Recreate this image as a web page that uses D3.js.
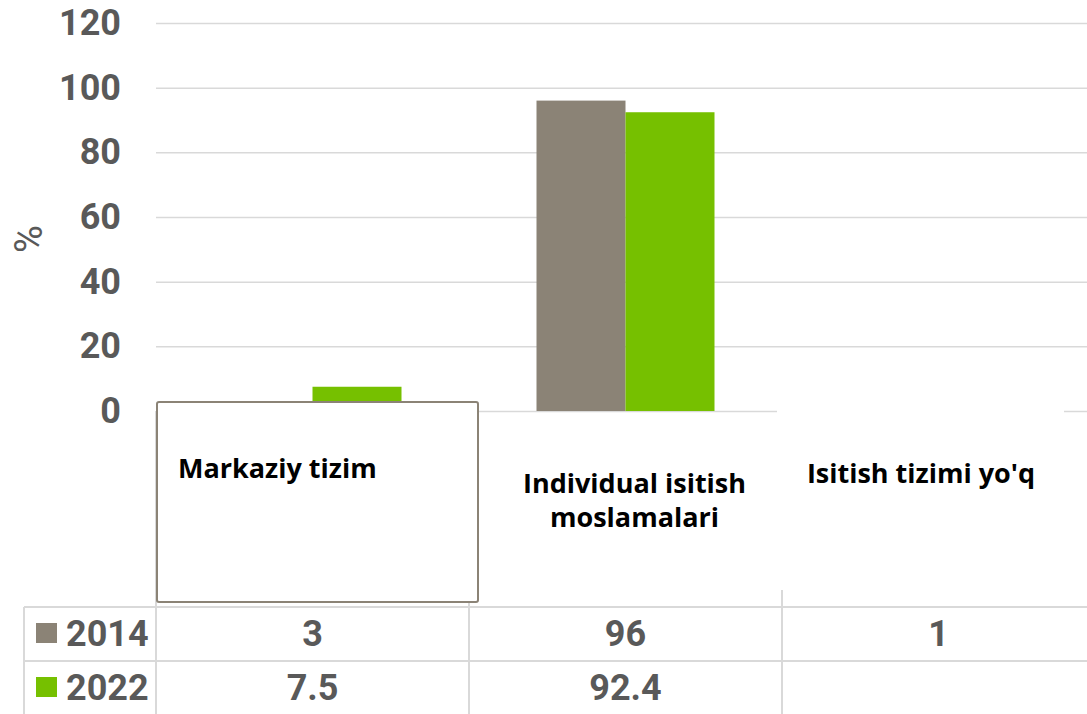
<!DOCTYPE html>
<html>
<head>
<meta charset="utf-8">
<script src="https://cdn.jsdelivr.net/npm/d3@7"></script>
<style>
  html, body { margin: 0; padding: 0; background: #fff; }
  svg { display: block; }
</style>
</head>
<body>
<svg id="chart" width="1087" height="714"></svg>
<script>
// ---- data ----
const categories = ["Markaziy tizim", "Individual isitish moslamalari", "Isitish tizimi yo'q"];
const seriesNames = ["2014", "2022"];
const values2014 = [3, 96, 1];
const values2022 = [7.5, 92.4, null];
const tickValues = [0, 20, 40, 60, 80, 100, 120];
const yLabel = "%";

const seriesColors = ["#8B8376", "#76C000"];
const series = [
  { name: seriesNames[0], values: values2014, color: seriesColors[0] },
  { name: seriesNames[1], values: values2022, color: seriesColors[1] }
];

const svg = d3.select("#chart");
const plotLeft = 156, plotRight = 1095, plotTop = 23, plotBottom = 411;
const numFont = "Roboto, 'Liberation Sans', sans-serif";
const labFont = "'Open Sans', Lato, sans-serif";
const textGray = "#595959";
const gridColor = "#d9d9d9";

const x = d3.scaleBand().domain(categories).range([plotLeft, plotRight])
  .paddingInner(0.4313).paddingOuter(0.4313 / 2);
const x1 = d3.scaleBand().domain(seriesNames).range([0, x.bandwidth()]);
const y = d3.scaleLinear().domain([0, 120]).range([plotBottom, plotTop]);

// ---- gridlines + y tick labels ----
const yAxis = d3.axisLeft(y).tickValues(tickValues)
  .tickSize(-(plotRight - plotLeft)).tickPadding(35);
const gy = svg.append("g").attr("transform", `translate(${plotLeft},0)`).call(yAxis);
gy.select(".domain").remove();
gy.selectAll(".tick line").attr("stroke", gridColor).attr("stroke-width", 1.5);
gy.selectAll(".tick text")
  .attr("font-family", numFont).attr("font-weight", "bold")
  .attr("font-size", 36).attr("fill", textGray);

// y label
svg.append("text")
  .attr("transform", `translate(29,${(plotTop + plotBottom) / 2 + 22}) rotate(-90)`)
  .attr("text-anchor", "middle").attr("dominant-baseline", "central")
  .attr("font-family", numFont).attr("font-size", 38).attr("fill", textGray)
  .text(yLabel);

// ---- data table lines ----
const step = x.step();
const catEdges = categories.map(c => x(c) - x.step() * x.paddingInner() / 2);
catEdges.push(catEdges[catEdges.length - 1] + step);
const tableTop = 607, rowH = 54, tableLeft = 24;
const rowYs = [tableTop, tableTop + rowH, tableTop + 2 * rowH];
const tbl = svg.append("g").attr("stroke", gridColor).attr("stroke-width", 2);
catEdges.forEach(e => {
  tbl.append("line").attr("x1", e).attr("x2", e).attr("y1", plotBottom).attr("y2", 714);
});
tbl.append("line").attr("x1", tableLeft).attr("x2", tableLeft).attr("y1", tableTop).attr("y2", 714);
rowYs.forEach(r => {
  tbl.append("line").attr("x1", tableLeft).attr("x2", plotRight).attr("y1", r).attr("y2", r);
});

// ---- bars ----
const gBars = svg.append("g");
series.forEach(s => {
  gBars.selectAll(null).data(categories.map((c, i) => ({ c, v: s.values[i] })).filter(d => d.v != null))
    .enter().append("rect")
    .attr("x", d => x(d.c) + x1(s.name))
    .attr("width", x1.bandwidth())
    .attr("y", d => y(d.v))
    .attr("height", d => y(0) - y(d.v))
    .attr("fill", s.color);
});

// ---- category labels (with overlay text boxes) ----
svg.append("rect")
  .attr("x", catEdges[0] + 1)
  .attr("y", 402).attr("width", 321).attr("height", 200).attr("rx", 2)
  .attr("fill", "#fff").attr("stroke", "#8B8376").attr("stroke-width", 2);
svg.append("rect")
  .attr("x", catEdges[2] - 5).attr("y", 404).attr("width", 287).attr("height", 186)
  .attr("fill", "#fff");

const labStyle = sel => sel.attr("font-family", labFont).attr("font-weight", "bold")
  .attr("font-size", 27).attr("fill", "#000");

svg.append("text").call(labStyle)
  .attr("x", catEdges[0] + 22).attr("y", 478).text(categories[0]);

const lab2 = svg.append("text").call(labStyle).attr("text-anchor", "middle");
["Individual isitish", "moslamalari"].forEach((t, i) => {
  lab2.append("tspan").attr("x", x(categories[1]) + x.bandwidth() / 2 + 9)
    .attr("y", 493 + i * 34).text(t);
});

svg.append("text").call(labStyle).attr("text-anchor", "middle")
  .attr("x", catEdges[2] + 139).attr("y", 483).text(categories[2]);

// ---- data table content ----
const fmt = v => (v == null ? "" : String(v));
series.forEach((s, r) => {
  const cy = rowYs[r] + rowH / 2;
  svg.append("rect").attr("x", 36).attr("y", cy - 11).attr("width", 21).attr("height", 20)
    .attr("fill", s.color);
  svg.append("text").attr("x", 66).attr("y", cy).attr("dominant-baseline", "central")
    .attr("font-family", numFont).attr("font-weight", "bold").attr("font-size", 36)
    .attr("fill", textGray).text(s.name);
  categories.forEach((c, i) => {
    svg.append("text")
      .attr("x", x(c) + x.bandwidth() / 2).attr("y", cy)
      .attr("text-anchor", "middle").attr("dominant-baseline", "central")
      .attr("font-family", numFont).attr("font-weight", "bold").attr("font-size", 36)
      .attr("fill", textGray).text(fmt(s.values[i]));
  });
});
</script>
</body>
</html>
